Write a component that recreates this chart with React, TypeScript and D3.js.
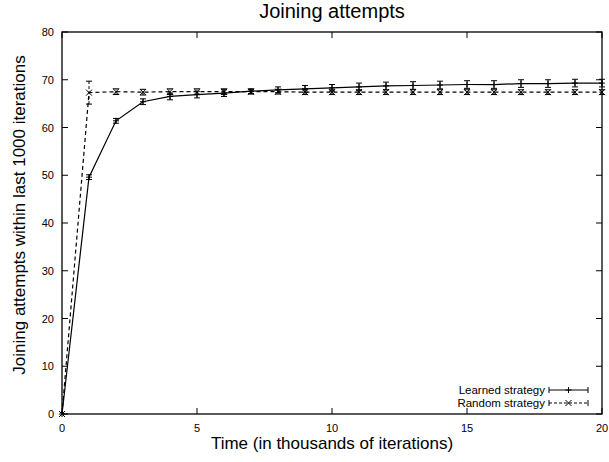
import React, { useEffect, useRef } from 'react';
import * as d3 from 'd3';

const TIMES = [0, 1, 2, 3, 4, 5, 6, 7, 8, 9, 10, 11, 12, 13, 14, 15, 16, 17, 18, 19, 20];
const LEARNED = [0, 49.6, 61.4, 65.4, 66.5, 66.9, 67.2, 67.6, 67.9, 68.1, 68.3, 68.5, 68.7, 68.8, 68.9, 69.0, 69.0, 69.2, 69.2, 69.3, 69.3];
const LEARNED_ERR = [0, 0.5, 0.5, 0.6, 0.7, 0.7, 0.7, 0.5, 0.6, 0.7, 0.7, 0.8, 0.8, 0.8, 0.8, 0.8, 0.8, 0.8, 0.8, 0.8, 0.8];
const RANDOM = [0, 67.3, 67.5, 67.4, 67.5, 67.5, 67.5, 67.5, 67.5, 67.4, 67.4, 67.4, 67.4, 67.4, 67.4, 67.4, 67.4, 67.4, 67.4, 67.4, 67.4];
const RANDOM_ERR = [0, 2.4, 0.6, 0.6, 0.6, 0.6, 0.6, 0.5, 0.5, 0.5, 0.5, 0.5, 0.5, 0.5, 0.5, 0.5, 0.5, 0.5, 0.5, 0.5, 0.5];
const X_TICKS = [0, 5, 10, 15, 20];
const Y_TICKS = [0, 10, 20, 30, 40, 50, 60, 70, 80];

export default function App() {
  const svgRef = useRef<SVGSVGElement>(null);

  useEffect(() => {
    const width = 609;
    const height = 462;
    const margin = { top: 32, right: 7, bottom: 48, left: 62 };
    const font = 'Liberation Sans, Arial, Helvetica, sans-serif';

    const svg = d3.select(svgRef.current);
    svg.selectAll('*').remove();
    svg.attr('width', width).attr('height', height).style('display', 'block');

    const x = d3.scaleLinear().domain([0, 20]).range([margin.left, width - margin.right]);
    const y = d3.scaleLinear().domain([0, 80]).range([height - margin.bottom, margin.top]);
    const [x0, x1] = x.range();
    const [yb, yt] = y.range();

    svg.append('rect').attr('width', width).attr('height', height).attr('fill', 'white');

    // ticks (gnuplot style, mirrored inward)
    const tl = 6;
    Y_TICKS.forEach(v => {
      svg.append('line').attr('x1', x0).attr('x2', x0 + tl).attr('y1', y(v)).attr('y2', y(v)).attr('stroke', '#000');
      svg.append('line').attr('x1', x1).attr('x2', x1 - tl).attr('y1', y(v)).attr('y2', y(v)).attr('stroke', '#000');
      svg.append('text').attr('x', x0 - 8).attr('y', y(v) + 4).attr('text-anchor', 'end')
        .style('font-family', font).style('font-size', '11px').text(v);
    });
    X_TICKS.forEach(v => {
      svg.append('line').attr('x1', x(v)).attr('x2', x(v)).attr('y1', yb).attr('y2', yb - tl).attr('stroke', '#000');
      svg.append('line').attr('x1', x(v)).attr('x2', x(v)).attr('y1', yt).attr('y2', yt + tl).attr('stroke', '#000');
      svg.append('text').attr('x', x(v)).attr('y', yb + 18).attr('text-anchor', 'middle')
        .style('font-family', font).style('font-size', '11px').text(v);
    });

    svg.append('rect').attr('x', x0).attr('y', yt).attr('width', x1 - x0).attr('height', yb - yt)
      .attr('fill', 'none').attr('stroke', '#000').attr('stroke-width', 1.3);

    const series = [
      { vals: LEARNED, err: LEARNED_ERR, dash: null, marker: '+' },
      { vals: RANDOM, err: RANDOM_ERR, dash: '4,3', marker: 'x' },
    ];

    const drawMarker = (g: any, cx: number, cy: number, m: string) => {
      const s = 3;
      if (m === '+') {
        g.append('line').attr('x1', cx - s).attr('x2', cx + s).attr('y1', cy).attr('y2', cy).attr('stroke', '#000');
        g.append('line').attr('x1', cx).attr('x2', cx).attr('y1', cy - s).attr('y2', cy + s).attr('stroke', '#000');
      } else {
        g.append('line').attr('x1', cx - s).attr('x2', cx + s).attr('y1', cy - s).attr('y2', cy + s).attr('stroke', '#000');
        g.append('line').attr('x1', cx - s).attr('x2', cx + s).attr('y1', cy + s).attr('y2', cy - s).attr('stroke', '#000');
      }
    };

    series.forEach(s => {
      const g = svg.append('g');
      const line = d3.line<number>().x((_, i) => x(TIMES[i])).y(d => y(d));
      g.append('path').datum(s.vals).attr('d', line).attr('fill', 'none').attr('stroke', '#000')
        .attr('stroke-width', 1.2).attr('stroke-dasharray', s.dash);
      s.vals.forEach((v, i) => {
        const cx = x(TIMES[i]);
        const e = s.err[i];
        if (e > 0) {
          g.append('line').attr('x1', cx).attr('x2', cx).attr('y1', y(v - e)).attr('y2', y(v + e))
            .attr('stroke', '#000').attr('stroke-dasharray', s.dash ? '3,2' : null);
          [v - e, v + e].forEach(c => {
            g.append('line').attr('x1', cx - 3).attr('x2', cx + 3).attr('y1', y(c)).attr('y2', y(c)).attr('stroke', '#000');
          });
        }
        drawMarker(g, cx, y(v), s.marker);
      });
    });

    // legend
    const legend = [
      { label: 'Learned strategy', dash: null, marker: '+' },
      { label: 'Random strategy', dash: '3,2', marker: 'x' },
    ];
    legend.forEach((l, i) => {
      const ly = 390 + i * 13;
      svg.append('text').attr('x', 545).attr('y', ly + 4).attr('text-anchor', 'end')
        .style('font-family', font).style('font-size', '11.5px').text(l.label);
      svg.append('line').attr('x1', 549).attr('x2', 588).attr('y1', ly).attr('y2', ly)
        .attr('stroke', '#000').attr('stroke-dasharray', l.dash);
      [549, 588].forEach(ex => {
        svg.append('line').attr('x1', ex).attr('x2', ex).attr('y1', ly - 3).attr('y2', ly + 3).attr('stroke', '#000');
      });
      const g = svg.append('g');
      drawMarker(g, 568.5, ly, l.marker);
    });

    svg.append('text').attr('x', (x0 + x1) / 2).attr('y', 18).attr('text-anchor', 'middle')
      .style('font-family', font).style('font-size', '20px').text('Joining attempts');
    svg.append('text').attr('x', (x0 + x1) / 2).attr('y', 449).attr('text-anchor', 'middle')
      .style('font-family', font).style('font-size', '17px').text('Time (in thousands of iterations)');
    svg.append('text').attr('transform', `translate(25,215) rotate(-90)`).attr('text-anchor', 'middle')
      .style('font-family', font).style('font-size', '17px').text('Joining attempts within last 1000 iterations');
  }, []);

  return <svg ref={svgRef} style={{ position: 'absolute', left: 0, top: 0 }}></svg>;
}
